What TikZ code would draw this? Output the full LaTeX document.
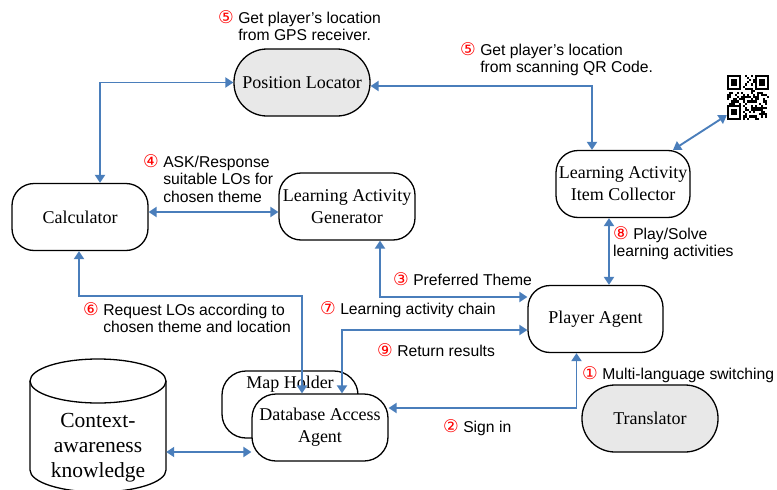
\documentclass[tikz,border=0pt]{standalone}
\usepackage{fontspec}
\setmainfont{Liberation Serif}
\newfontfamily\labfont{Liberation Sans}
\newfontfamily\numfont{DejaVu Sans}
\usetikzlibrary{arrows.meta}
\definecolor{lineblue}{RGB}{74,126,187}
\definecolor{shade}{RGB}{232,232,232}
\newcommand\cn[1]{{\color{red}\numfont\fontsize{17.5}{17.5}\selectfont #1}}
\begin{document}
\begin{tikzpicture}[x=1pt,y=-1pt,
  box/.style={draw, line width=1.3pt, rounded corners=22pt, minimum width=136pt, minimum height=67pt,
    align=center, font=\fontsize{18}{22}\selectfont, inner sep=2pt, fill=white},
  pill/.style={box, rounded corners=33pt, fill=shade},
  dbl/.style={draw=lineblue, line width=1.9pt, {Triangle[length=8pt,width=10pt]}-{Triangle[length=8pt,width=10pt]}},
  lab/.style={anchor=base west, inner sep=0pt, font=\labfont\fontsize{15.7}{17.8}\selectfont}]
\useasboundingbox (0,0) rectangle (777,490);

% nodes
\node[pill] (pos) at (302,82.5) {Position Locator};
\node[box] (calc) at (80,217) {Calculator};
\node[box] (gen) at (347,206.5) {Learning Activity\\Generator};
\node[box, minimum width=134pt] (coll) at (623,184) {Learning Activity\\Item Collector};
\node[box, minimum width=135pt] (player) at (595.5,319) {Player Agent};
\node[pill] (trans) at (650,418.5) {Translator};
\node[box, rounded corners=24pt, text height=13pt, text depth=46pt, inner ysep=4pt] (map) at (290,404.5) {Map Holder};
\node[box, rounded corners=24pt] (db) at (320,427.5) {Database Access\\Agent};

% cylinder
\draw[line width=1.3pt, fill=white] (30,381) -- (30,470) arc[start angle=180, end angle=0, x radius=68, y radius=22] -- (166,381);
\draw[line width=1.3pt] (98,381) ellipse [x radius=68, y radius=22];
\node[font=\fontsize{21.5}{25}\selectfont, align=center, minimum width=136pt, inner xsep=0pt] (ctx) at (98,448) {Context-\\awareness\\knowledge};

% QR code
\node[minimum width=42pt, minimum height=45pt, inner sep=0pt] (qr) at (748,97.5) {};
\begin{scope}[shift={(qr.north west)}, x=2pt, y=-2.14pt]
  \pgfmathsetseed{11}
  \foreach \i in {0,...,20}{
    \foreach \j in {0,...,20}{
      \pgfmathrandominteger{\r}{0}{1}
      \ifnum\r=1 \fill (\i,\j) rectangle ++(1,1);\fi
    }
  }
  \foreach \a/\b in {0/0,14/0,0/14}{
    \fill[white] (\a-0.0,\b-0.0) rectangle ++(8,8);
    \fill (\a,\b) rectangle ++(7,7);
    \fill[white] (\a+1,\b+1) rectangle ++(5,5);
    \fill (\a+2,\b+2) rectangle ++(3,3);
  }
\end{scope}

% connectors
\draw[dbl] ([xshift=20pt]calc.north) |- (pos.west);
\draw[dbl] ([yshift=-3.5pt]pos.east) -| ([xshift=-31pt]coll.north);
\draw[dbl] ([xshift=50pt]coll.north) -- ([yshift=5pt]qr.south west);
\draw[dbl] (calc.east |- 0,212) -- (gen.west |- 0,212);
\draw[dbl] ([xshift=33pt]gen.south) |- (player.west |- 0,297);
\draw[dbl] ([xshift=-1pt]calc.south) |- ([xshift=-18pt]db.north |- 0,296) -- ([xshift=-18pt]db.north);
\draw[dbl] ([xshift=22pt]db.north) |- (player.west |- 0,330);
\draw[dbl] ([xshift=-19pt]player.south) |- (db.east |- 0,408);
\draw[dbl] ([xshift=-14pt]coll.south) -- ([xshift=-14pt]coll.south |- player.north);
\draw[dbl] (ctx.east |- 0,452) -- (db.west |- 0,452);

% labels
\node[lab] (l5a) at (218,23) {\cn{⑤} \begin{tabular}[t]{@{}l@{}}Get player’s location\\from GPS receiver.\end{tabular}};
\node[lab] (l5b) at (460,55) {\cn{⑤} \begin{tabular}[t]{@{}l@{}}Get player’s location\\from scanning QR Code.\end{tabular}};
\node[lab] (l4) at (143,167) {\cn{④} \begin{tabular}[t]{@{}l@{}}ASK/Response\\suitable LOs for\\chosen theme\end{tabular}};
\node[lab] (l3) at (393,285) {\cn{③} Preferred Theme};
\node[lab] (l6) at (83,315) {\cn{⑥} \begin{tabular}[t]{@{}l@{}}Request LOs according to\\chosen theme and location\end{tabular}};
\node[lab] (l7) at (320,314) {\cn{⑦} Learning activity chain};
\node[lab] (l9) at (377,356) {\cn{⑨} Return results};
\node[lab] (l8) at (613,239) {\begin{tabular}[t]{@{}l@{}}\cn{⑧} Play/Solve\\learning activities\end{tabular}};
\node[lab] (l1) at (582,379) {\cn{①} Multi-language switching};
\node[lab] (l2) at (443,432) {\cn{②} Sign in};
\end{tikzpicture}
\end{document}
